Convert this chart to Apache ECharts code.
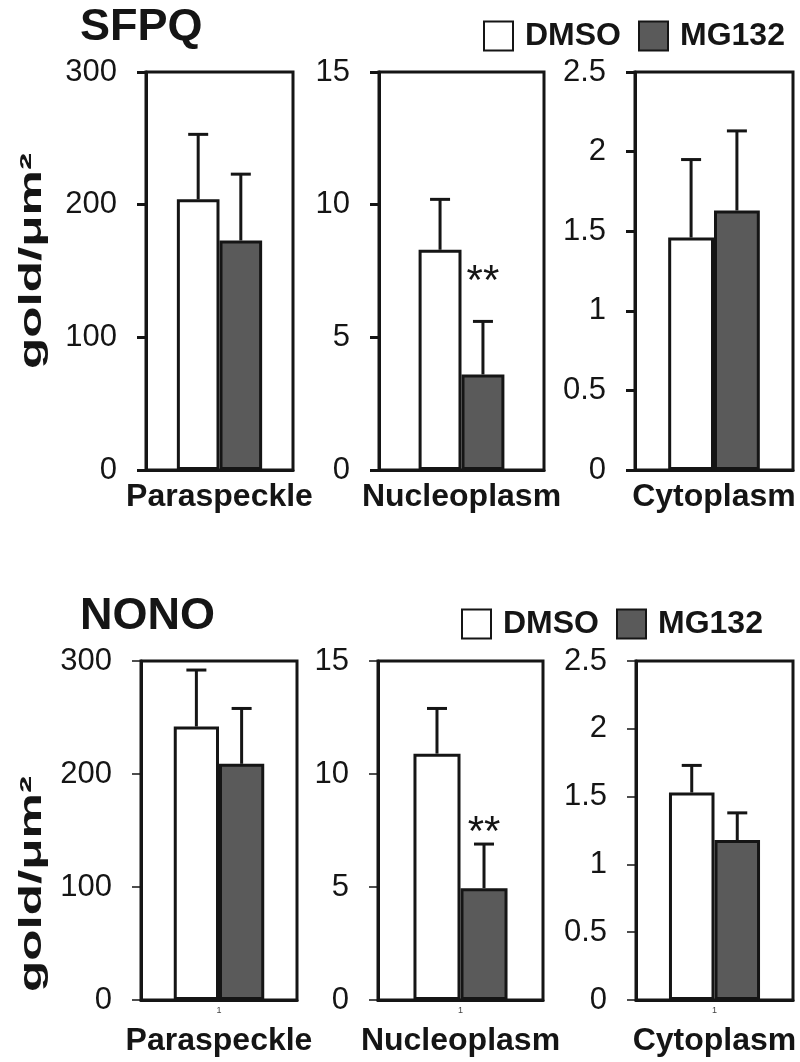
<!DOCTYPE html>
<html><head><meta charset="utf-8">
<script src="https://cdn.jsdelivr.net/npm/echarts@6/dist/echarts.min.js"></script>
<style>html,body{margin:0;padding:0;background:#fff}#c{width:800px;height:1062px}</style>
</head><body><div id="c"></div>
<script>
// ---------- data ----------
const regions = ['Paraspeckle', 'Nucleoplasm', 'Cytoplasm'];
const categories = ['1'];
const proteins = ['SFPQ', 'NONO'];
const seriesNames = ['DMSO', 'MG132'];
const yAxisTitle = 'gold/μm²';

const sfpqDmso = [204, 8.3, 1.46];
const sfpqDmsoErr = [49, 1.9, 0.49];
const sfpqMg132 = [173, 3.6, 1.63];
const sfpqMg132Err = [50, 2.0, 0.50];

const nonoDmso = [242, 10.9, 1.53];
const nonoDmsoErr = [50, 2.0, 0.20];
const nonoMg132 = [209, 4.95, 1.18];
const nonoMg132Err = [49, 1.95, 0.20];

const yMax = [300, 15, 2.5];
const yInterval = [100, 5, 0.5];

const sigLabel = '**';
const sfpqSigY = [null, 7.4, null];
const nonoSigY = [null, 7.75, null];

// ---------- layout ----------
const FONT = '"Liberation Sans", Arial, sans-serif';
const INK = '#151515';
const DARK = '#5a5a5a';
const SIG_SIZE = 42;
const rows = [
  { values: [sfpqDmso, sfpqMg132], errs: [sfpqDmsoErr, sfpqMg132Err], sig: sfpqSigY,
    top: 72, height: 398, grids: [[146, 147], [379, 165], [635, 158]], ratio: [0.29, 0.26, 0.29],
    tickW: 3, showCat: false, nameGap: 11 },
  { values: [nonoDmso, nonoMg132], errs: [nonoDmsoErr, nonoMg132Err], sig: nonoSigY,
    top: 661, height: 339, grids: [[141, 156], [378, 165], [636, 157]], ratio: [0.29, 0.285, 0.29],
    tickW: 1.5, showCat: true, nameGap: 25 }
];

function errRender(sign, ratio) {
  return function (params, api) {
    const cat = api.value(0), v = api.value(1), e = api.value(2);
    const base = api.coord([cat, v]);
    const top = api.coord([cat, v + e]);
    const band = api.size([1, 0])[0];
    const x = base[0] + sign * band * ratio / 2;
    const cap = 10;
    return { type: 'group', children: [
      { type: 'line', shape: { x1: x, y1: base[1], x2: x, y2: top[1] }, style: { stroke: INK, lineWidth: 3 } },
      { type: 'line', shape: { x1: x - cap, y1: top[1], x2: x + cap, y2: top[1] }, style: { stroke: INK, lineWidth: 3 } }
    ] };
  };
}
function sigRender(ratio) {
  return function (params, api) {
    const p = api.coord([api.value(0), api.value(1)]);
    const band = api.size([1, 0])[0];
    // asterisks sit high in the em box: nudge so the glyphs are centred on the value
    return { type: 'text', x: p[0] + band * ratio / 2, y: p[1] + SIG_SIZE * 0.2,
      style: { text: sigLabel, font: SIG_SIZE + 'px ' + FONT, fill: INK, align: 'center', verticalAlign: 'middle' } };
  };
}

const grid = [], xAxis = [], yAxis = [], series = [];
rows.forEach((row, r) => {
  row.grids.forEach((g, i) => {
    const idx = grid.length;
    grid.push({ left: g[0], top: row.top, width: g[1], height: row.height,
      show: true, borderColor: INK, borderWidth: 3, backgroundColor: 'transparent' });
    xAxis.push({ type: 'category', gridIndex: idx, data: categories,
      name: regions[i], nameLocation: 'middle', nameGap: row.nameGap,
      nameTextStyle: { fontFamily: FONT, fontSize: 32, fontWeight: 'bold', color: INK },
      axisLine: { show: true, lineStyle: { color: INK, width: 3 } },
      axisTick: { show: false },
      axisLabel: { show: row.showCat, fontSize: 9, color: '#444', margin: 6, fontFamily: FONT } });
    yAxis.push({ type: 'value', gridIndex: idx, min: 0, max: yMax[i], interval: yInterval[i],
      axisLine: { show: true, lineStyle: { color: INK, width: 3 } },
      axisTick: { show: true, inside: false, length: 9, lineStyle: { color: INK, width: row.tickW } },
      axisLabel: { fontFamily: FONT, fontSize: 31, color: INK, margin: 29 },
      splitLine: { show: false } });
    const ratio = row.ratio[i];
    seriesNames.forEach((nm, s) => {
      series.push({ type: 'bar', name: nm, xAxisIndex: idx, yAxisIndex: idx,
        data: [row.values[s][i]], barWidth: (ratio * 100) + '%', barGap: '0%',
        itemStyle: { color: s === 0 ? '#ffffff' : DARK, borderColor: INK, borderWidth: 3 } });
    });
    seriesNames.forEach((nm, s) => {
      series.push({ type: 'custom', xAxisIndex: idx, yAxisIndex: idx, z: 5,
        renderItem: errRender(s === 0 ? -1 : 1, ratio),
        data: [[0, row.values[s][i], row.errs[s][i]]] });
    });
    if (row.sig[i] != null) {
      series.push({ type: 'custom', xAxisIndex: idx, yAxisIndex: idx, z: 6,
        renderItem: sigRender(ratio), data: [[0, row.sig[i]]] });
    }
  });
});

const legendBase = {
  data: seriesNames, orient: 'horizontal', itemWidth: 29, itemHeight: 29, itemGap: 17,
  icon: 'rect', selectedMode: false, padding: 0,
  itemStyle: { borderColor: INK, borderWidth: 2 },
  textStyle: { fontFamily: FONT, fontSize: 32, fontWeight: 'bold', color: INK, padding: [0, 0, 0, 7] }
};

const yTitleStyle = { text: yAxisTitle, font: 'bold 31px ' + FONT, fill: INK, align: 'center', verticalAlign: 'middle' };

const option = {
  animation: false,
  backgroundColor: '#ffffff',
  grid, xAxis, yAxis, series,
  legend: [
    Object.assign({}, legendBase, { left: 483, top: 20 }),
    Object.assign({}, legendBase, { left: 461, top: 608 })
  ],
  graphic: [
    { type: 'text', left: 80, top: 5, style: { text: proteins[0], font: 'bold 45px ' + FONT, fill: INK } },
    { type: 'text', left: 80, top: 594, style: { text: proteins[1], font: 'bold 45px ' + FONT, fill: INK } },
    { type: 'text', x: 32, y: 261, rotation: Math.PI / 2, scaleX: 1.65, style: yTitleStyle },
    { type: 'text', x: 32, y: 884, rotation: Math.PI / 2, scaleX: 1.65, style: yTitleStyle }
  ]
};
const chart = echarts.init(document.getElementById('c'), null, { renderer: 'canvas' });
chart.setOption(option);
</script>
</body></html>
